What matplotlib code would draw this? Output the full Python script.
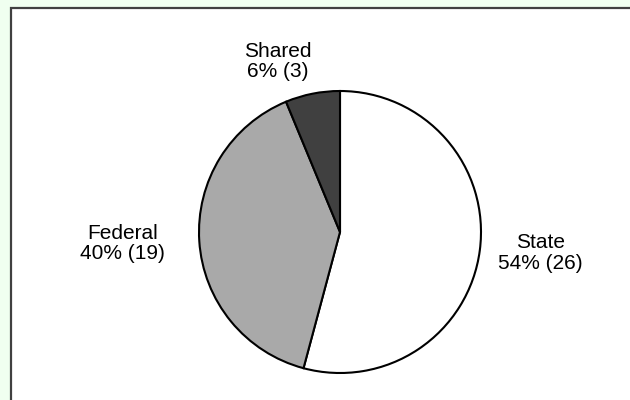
import matplotlib.pyplot as plt
from matplotlib.patches import Rectangle

categories = ['State', 'Federal', 'Shared']
counts = [26, 19, 3]
percents = [54, 40, 6]
colors = ['#FFFFFF', '#A9A9A9', '#404040']

# label centres, in pie-radius units (placed like the original)
label_xy = [(1.42, -0.15), (-1.54, -0.08), (-0.44, 1.21)]

W, H = 630, 400
R = 141.0          # pie radius in px
CX, CY = 340, 232  # pie centre in px, measured from top-left

plt.rcParams['font.family'] = ['Liberation Sans', 'DejaVu Sans']

fig = plt.figure(figsize=(W / 100, H / 100), dpi=100, facecolor='#F0FFF0')

# white chart area with dark border, running off the right and bottom edges
fig.patches.append(Rectangle((11 / W, -0.1), 1.2, 1.1 - 8 / H,
                             transform=fig.transFigure, facecolor='white',
                             edgecolor='#404040', linewidth=1.6, zorder=-1))

ax = fig.add_axes([0, 0, 1, 1], zorder=1)
ax.patch.set_alpha(0)
ax.pie(counts, colors=colors, startangle=90, counterclock=False,
       wedgeprops=dict(edgecolor='black', linewidth=1.5))

for name, pct, n, (x, y) in zip(categories, percents, counts, label_xy):
    ax.text(x, y, '%s\n%d%% (%d)' % (name, pct, n), ha='center', va='center',
            fontsize=15, linespacing=1.1, color='black')

ax.set_xlim(-CX / R, (W - CX) / R)
ax.set_ylim(-(H - CY) / R, CY / R)
ax.set_aspect('auto')
ax.set_axis_off()

fig.savefig('out.png', dpi=100, facecolor=fig.get_facecolor())
